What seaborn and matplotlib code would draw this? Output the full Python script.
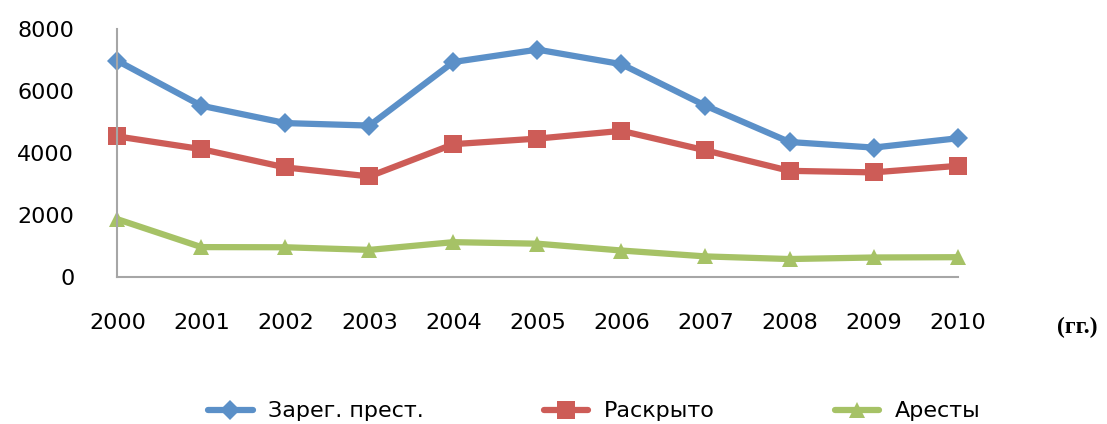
import numpy as np
import pandas as pd
import seaborn as sns
import matplotlib
matplotlib.use('Agg')
import matplotlib.pyplot as plt

years = list(range(2000, 2011))
crimes = [6970, 5520, 4960, 4880, 6930, 7330, 6860, 5520, 4350, 4170, 4470]
solved = [4530, 4120, 3530, 3240, 4280, 4460, 4710, 4080, 3420, 3370, 3580]
arrests = [1860, 960, 955, 870, 1120, 1070, 850, 660, 575, 625, 635]
labels = ['Зарег. прест.', 'Раскрыто', 'Аресты']

df = pd.DataFrame({'year': years, labels[0]: crimes, labels[1]: solved, labels[2]: arrests})
long = df.melt(id_vars='year', var_name='series', value_name='value')

sns.set_style('white')
plt.rcParams['font.family'] = ['DejaVu Sans']
plt.rcParams['text.color'] = 'black'

fig = plt.figure(figsize=(11.07, 4.24), dpi=100)
ax = fig.add_axes([0.106, 0.347, 0.759, 0.585])

colors = ['#5B90C8', '#CD5C57', '#A6C266']
markers = ['D', 's', '^']
sizes = [10, 13, 12]
for name, c, m, ms in zip(labels, colors, markers, sizes):
    sub = long[long['series'] == name]
    sns.lineplot(data=sub, x='year', y='value', ax=ax, color=c, lw=4.5,
                 marker=m, markersize=ms, markeredgewidth=0, label=name,
                 clip_on=False, zorder=2)

ax.set_xlim(2000, 2010)
ax.set_ylim(0, 8000)
ax.set_xticks(years)
ax.set_yticks([0, 2000, 4000, 6000, 8000])
ax.set_xlabel('')
ax.set_ylabel('')
for s in ['top', 'right']:
    ax.spines[s].set_visible(False)
for s in ['left', 'bottom']:
    ax.spines[s].set_color('#A6A6A6')
    ax.spines[s].set_linewidth(1.5)
ax.tick_params(axis='both', which='major', direction='out', length=5, width=1.5,
               color='#A6A6A6', labelsize=16, colors='#A6A6A6', labelcolor='black')
ax.tick_params(axis='x', pad=21)
ax.tick_params(axis='y', pad=26)

fig.text(0.955, 0.228, '(гг.)', fontsize=17, fontweight='bold',
         family=['Liberation Serif', 'DejaVu Serif'], ha='left', va='center')

ax.legend(loc='center', bbox_to_anchor=(0.537, 0.03), bbox_transform=fig.transFigure,
          ncol=3, frameon=False, fontsize=16, columnspacing=5.4, handlelength=2.0,
          handletextpad=0.7, labelcolor='black')

fig.savefig('out.png', dpi=100)
